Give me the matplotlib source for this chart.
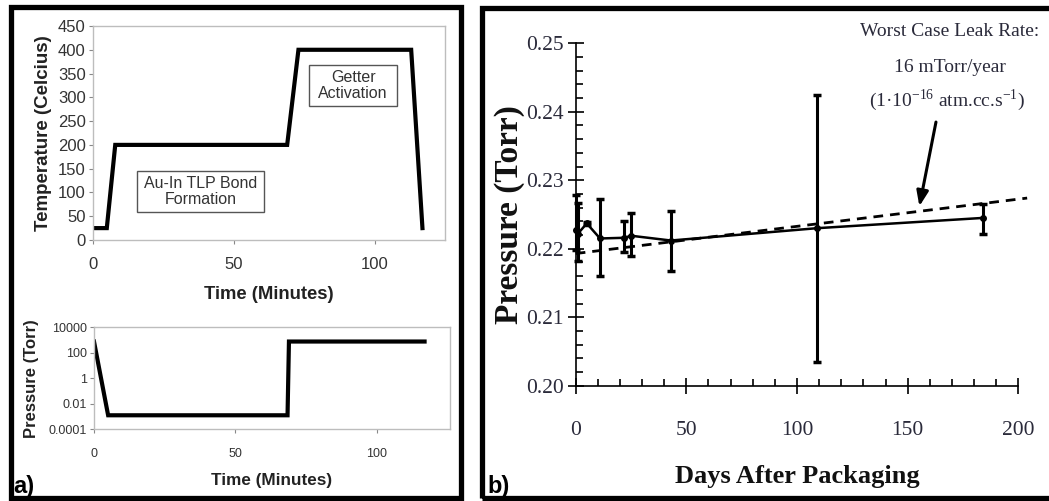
import matplotlib
matplotlib.use("Agg")
import matplotlib.pyplot as plt
from matplotlib.patches import Rectangle
from matplotlib.ticker import MultipleLocator, FormatStrFormatter, FixedLocator
import numpy as np

# ---------------- data ----------------
# panel a (top): temperature profile
temp_time = [0, 5, 8, 69, 73, 113, 117]
temp_vals = [25, 25, 200, 200, 400, 400, 25]
# panel a (bottom): chamber pressure
pres_time = [0, 5, 68.5, 69, 117]
pres_vals = [760, 0.0012, 0.0012, 760, 760]
# panel b: package pressure vs days
days = [0, 1, 5, 11, 22, 25, 43, 109, 184]
pressure = [0.2228, 0.2222, 0.2237, 0.2215, 0.2216, 0.2219, 0.2212, 0.2230, 0.2245]
err_low = [0.2198, 0.2182, 0.2235, 0.2160, 0.2195, 0.2189, 0.2167, 0.2035, 0.2221]
err_high = [0.2278, 0.2267, 0.2239, 0.2273, 0.2241, 0.2252, 0.2255, 0.2424, 0.2266]
# worst-case leak rate line
leak_days = [0, 204]
leak_pres = [0.2193, 0.2274]

W, H = 1049, 501
fig = plt.figure(figsize=(W / 100, H / 100), dpi=100)
fig.patch.set_facecolor("white")

def fx(px):
    return px / W

def fy(py):
    return (H - py) / H

sans = "Liberation Sans"
serif = "Liberation Serif"
gray_txt = "#333333"
frame_gray = "#bdbdbd"

# ---------------- panel a top ----------------
ax1 = fig.add_axes([fx(92.7), fy(240), fx(445) - fx(92.7), fy(26) - fy(240)])
ax1.plot(temp_time, temp_vals, color="black", lw=3, solid_joinstyle="miter")
ax1.set_xlim(0, 125)
ax1.set_ylim(0, 450)
ax1.yaxis.set_major_locator(MultipleLocator(50))
ax1.xaxis.set_major_locator(FixedLocator([0, 50, 100]))
for s in ax1.spines.values():
    s.set_color(frame_gray)
    s.set_linewidth(1)
ax1.tick_params(length=3, color="#888888", labelcolor=gray_txt, labelsize=12, pad=2)
for lab in ax1.get_xticklabels() + ax1.get_yticklabels():
    lab.set_family(sans)
ax1.tick_params(axis="x", pad=9)
ax1.set_xlabel("Time (Minutes)", fontsize=13.3, fontweight="bold", family=sans,
               color="#222222", labelpad=10)
ax1.set_ylabel("Temperature (Celcius)", fontsize=13.5, fontweight="bold", family=sans,
               color="#222222", labelpad=4)
# annotation boxes
ax1.add_patch(Rectangle((15.7, 58.9), 45.1, 86.1, fill=False, ec="#555555", lw=1))
ax1.text(38.3, 102, "Au-In TLP Bond\nFormation", ha="center", va="center",
         fontsize=11.5, family=sans, color=gray_txt, linespacing=1.15)
ax1.add_patch(Rectangle((76.8, 281.7), 31.2, 86.3, fill=False, ec="#555555", lw=1))
ax1.text(92.4, 325, "Getter\nActivation", ha="center", va="center",
         fontsize=11.5, family=sans, color=gray_txt, linespacing=1.15)

# ---------------- panel a bottom ----------------
ax2 = fig.add_axes([fx(94), fy(429), fx(450) - fx(94), fy(327.3) - fy(429)])
ax2.plot(pres_time, pres_vals, color="black", lw=3, solid_joinstyle="miter")
ax2.set_yscale("log")
ax2.set_xlim(0, 126)
ax2.set_ylim(1e-4, 1e4)
ax2.yaxis.set_major_locator(FixedLocator([1e-4, 1e-2, 1, 1e2, 1e4]))
ax2.yaxis.set_minor_locator(FixedLocator([]))
ax2.set_yticklabels(["0.0001", "0.01", "1", "100", "10000"])
ax2.xaxis.set_major_locator(FixedLocator([0, 50, 100]))
for s in ax2.spines.values():
    s.set_color(frame_gray)
    s.set_linewidth(1)
ax2.tick_params(length=3, color="#888888", labelcolor=gray_txt, labelsize=9, pad=2)
ax2.tick_params(axis="x", pad=11)
for lab in ax2.get_xticklabels() + ax2.get_yticklabels():
    lab.set_family(sans)
ax2.set_xlabel("Time (Minutes)", fontsize=12.3, fontweight="bold", family=sans,
               color="#222222", labelpad=9)
ax2.set_ylabel("Pressure (Torr)", fontsize=12, fontweight="bold", family=sans,
               color="#222222", labelpad=7)

# ---------------- panel b ----------------
ax3 = fig.add_axes([fx(575.7), fy(385.7), fx(1018.3) - fx(575.7), fy(43.3) - fy(385.7)])
ax3.set_xlim(0, 200)
ax3.set_ylim(0.20, 0.25)
p = np.array(pressure)
yerr = np.vstack([p - np.array(err_low), np.array(err_high) - p])
ax3.errorbar(days, pressure, yerr=yerr, color="black", lw=1.8, elinewidth=2.2,
             capsize=3, capthick=2.5, marker="o", ms=4, clip_on=False, zorder=3)
ax3.plot(leak_days, leak_pres, color="black", lw=2, dashes=(3.5, 2.5), clip_on=False, zorder=2)

for side in ("top", "right"):
    ax3.spines[side].set_visible(False)
for side in ("left", "bottom"):
    ax3.spines[side].set_linewidth(1.2)
ax3.xaxis.set_major_locator(MultipleLocator(50))
ax3.xaxis.set_minor_locator(MultipleLocator(10))
ax3.yaxis.set_major_locator(MultipleLocator(0.01))
ax3.yaxis.set_minor_locator(MultipleLocator(0.002))
ax3.yaxis.set_major_formatter(FormatStrFormatter("%.2f"))
ax3.tick_params(axis="both", which="major", direction="inout", length=11, width=1.2,
                labelsize=15.5, labelcolor="#2a2a3a")
ax3.tick_params(axis="both", which="minor", direction="in", length=5, width=1.2)
ax3.tick_params(axis="x", which="major", pad=20)
ax3.tick_params(axis="y", which="major", pad=3)
for lab in ax3.get_xticklabels() + ax3.get_yticklabels():
    lab.set_family(serif)
ax3.set_xlabel("Days After Packaging", fontsize=19, fontweight="bold", family=serif,
               color="#111111", labelpad=18)
ax3.set_ylabel("Pressure (Torr)", fontsize=24, fontweight="bold", family=serif,
               color="#111111", labelpad=1)

ann_col = "#2a2a3a"
fig.text(fx(949.5), fy(31), "Worst Case Leak Rate:", ha="center", va="center",
         fontsize=14, family=serif, color=ann_col)
fig.text(fx(950), fy(67), "16 mTorr/year", ha="center", va="center",
         fontsize=14, family=serif, color=ann_col)
fig.text(fx(947.5), fy(100),
         r"(1·10$^{\mathregular{-16}}$ atm.cc.s$^{\mathregular{-1}}$)",
         ha="center", va="center", fontsize=14, family=serif, color=ann_col)
ax3.annotate("", xy=(155.3, 0.2262), xytext=(162.8, 0.2385),
             arrowprops=dict(arrowstyle="-|>,head_length=0.9,head_width=0.35",
                             color="black", lw=2.2, shrinkA=0, shrinkB=0))

# ---------------- frames & labels ----------------
fig.patches.append(Rectangle((fx(10.5), fy(497.5)), fx(460.5) - fx(10.5), fy(7.5) - fy(497.5),
                             transform=fig.transFigure, fill=False, ec="black", lw=3.8,
                             figure=fig))
fig.patches.append(Rectangle((fx(482), fy(497.5)), fx(1060) - fx(482), fy(8) - fy(497.5),
                             transform=fig.transFigure, fill=False, ec="black", lw=3.8,
                             figure=fig))
fig.text(fx(13), fy(493), "a)", ha="left", va="baseline", fontsize=17,
         fontweight="bold", family=sans, color="black")
fig.text(fx(487), fy(493), "b)", ha="left", va="baseline", fontsize=17,
         fontweight="bold", family=sans, color="black")

fig.savefig("out.png", dpi=100)
